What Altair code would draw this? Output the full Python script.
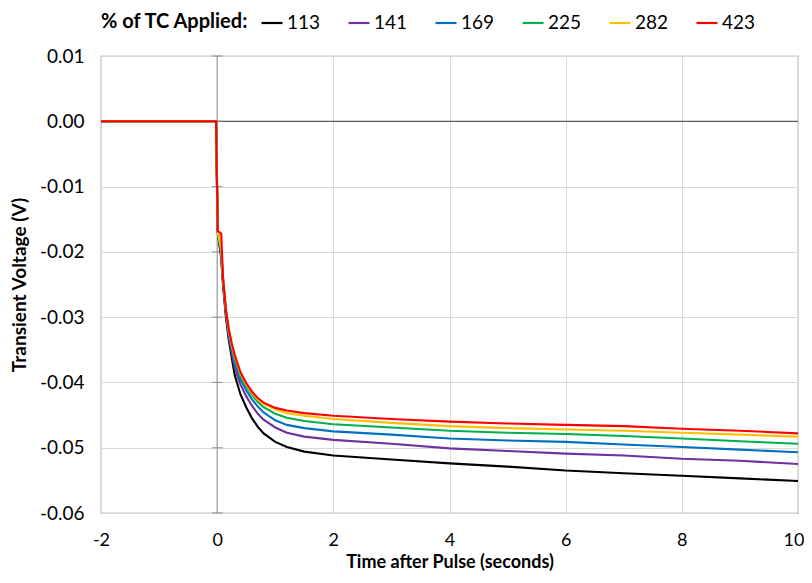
import altair as alt
import pandas as pd

# time after pulse (s)
times = [-2, -0.02, 0.01, 0.07, 0.1, 0.15, 0.2, 0.25, 0.3, 0.4, 0.5, 0.6, 0.7, 0.8,
         1.0, 1.2, 1.5, 2, 3, 4, 5, 6, 7, 8, 9, 10]

series_names = ["113", "141", "169", "225", "282", "423"]
series_colors = ["#000000", "#7030A0", "#0070C0", "#00B050", "#FFC000", "#FF0000"]

v113 = [0, 0, -0.0170, -0.0210, -0.0250, -0.0300, -0.0335, -0.0362, -0.0388, -0.0418, -0.0438,
        -0.0455, -0.0468, -0.0478, -0.0491, -0.0499, -0.0506, -0.0512, -0.0518, -0.0524,
        -0.0529, -0.0535, -0.0539, -0.0543, -0.0547, -0.0551]
v141 = [0, 0, -0.0170, -0.0205, -0.0245, -0.0295, -0.0330, -0.0355, -0.0377, -0.0403, -0.0421,
        -0.0436, -0.0448, -0.0457, -0.0469, -0.0477, -0.0483, -0.0488, -0.0494, -0.0501,
        -0.0505, -0.0509, -0.0512, -0.0517, -0.0520, -0.0525]
v169 = [0, 0, -0.0170, -0.0203, -0.0242, -0.0291, -0.0325, -0.0348, -0.0369, -0.0395, -0.0412,
        -0.0426, -0.0437, -0.0446, -0.0458, -0.0465, -0.0470, -0.0475, -0.0480, -0.0486,
        -0.0489, -0.0491, -0.0495, -0.0499, -0.0503, -0.0507]
v225 = [0, 0, -0.0170, -0.0200, -0.0240, -0.0290, -0.0322, -0.0345, -0.0364, -0.0390, -0.0406,
        -0.0419, -0.0430, -0.0438, -0.0448, -0.0454, -0.0459, -0.0464, -0.0469, -0.0474,
        -0.0477, -0.0479, -0.0482, -0.0486, -0.0490, -0.0494]
v282 = [0, 0, -0.0170, -0.0195, -0.0239, -0.0289, -0.0320, -0.0342, -0.0360, -0.0386, -0.0403,
        -0.0416, -0.0426, -0.0433, -0.0441, -0.0447, -0.0451, -0.0456, -0.0462, -0.0467,
        -0.0470, -0.0472, -0.0474, -0.0477, -0.0480, -0.0483]
v423 = [0, 0, -0.0168, -0.0172, -0.0238, -0.0288, -0.0318, -0.0340, -0.0357, -0.0384, -0.0401,
        -0.0414, -0.0424, -0.0431, -0.0439, -0.0443, -0.0447, -0.0451, -0.0456, -0.0460,
        -0.0463, -0.0465, -0.0467, -0.0471, -0.0474, -0.0478]

x_ticks = [-2, 0, 2, 4, 6, 8, 10]
y_ticks = [-0.06, -0.05, -0.04, -0.03, -0.02, -0.01, 0.0, 0.01]

all_vals = [v113, v141, v169, v225, v282, v423]
rows = []
for name, vals in zip(series_names, all_vals):
    for t, v in zip(times, vals):
        rows.append({"t": t, "v": v, "series": name})
df = pd.DataFrame(rows)

FONT = "Lato"

xscale = alt.Scale(domain=[-2, 10], nice=False, zero=False)
yscale = alt.Scale(domain=[-0.06, 0.01], nice=False, zero=False)

lines = alt.Chart(df).mark_line(strokeWidth=2.1).encode(
    x=alt.X("t:Q", scale=xscale,
            axis=alt.Axis(values=x_ticks, title="Time after Pulse (seconds)",
                          labelExpr="datum.value + ''", grid=True, labelFlush=False,
                          labelAlign={"condition": {"test": "datum.value == 10", "value": "right"},
                                      "value": "center"},
                          labelOffset={"condition": {"test": "datum.value == 10", "value": 6},
                                       "value": 0})),
    y=alt.Y("v:Q", scale=yscale,
            axis=alt.Axis(values=y_ticks, title="Transient Voltage (V)",
                          labelExpr="replace(format(datum.value, '.2f'), '\u2212', '-')",
                          grid=True, labelFlush=False)),
    color=alt.Color("series:N",
                    scale=alt.Scale(domain=series_names, range=series_colors),
                    legend=alt.Legend(title="% of TC Applied:", orient="none",
                                      direction="horizontal", titleOrient="left",
                                      legendX=0, legendY=-45,
                                      symbolType="stroke", symbolSize=441,
                                      symbolStrokeWidth=2.2, labelOffset=3,
                                      columnPadding=23, titlePadding=11,
                                      labelFontSize=19, titleFontSize=20,
                                      titleFontWeight="bold", labelFont=FONT,
                                      titleFont=FONT, titleColor="#000000",
                                      labelColor="#000000")),
)

zero_df = pd.DataFrame({"v": [0.0]})
zero_rule = alt.Chart(zero_df).mark_rule(color="#595959", strokeWidth=1.3).encode(
    y=alt.Y("v:Q", scale=yscale)
)

vaxis_df = pd.DataFrame({"t": [0.0]})
vaxis_rule = alt.Chart(vaxis_df).mark_rule(color="#A0A0A0", strokeWidth=1.2).encode(
    x=alt.X("t:Q", scale=xscale)
)

tick_df = pd.DataFrame({"t": [0.0] * len(y_ticks), "v": y_ticks})
ticks = alt.Chart(tick_df).mark_tick(orient="horizontal", size=11, thickness=1.2,
                                     color="#808080").encode(
    x=alt.X("t:Q", scale=xscale),
    y=alt.Y("v:Q", scale=yscale),
)

chart = alt.layer(zero_rule, vaxis_rule, ticks, lines).properties(
    width=697, height=457,
    autosize=alt.AutoSizeParams(type="none"),
    padding={"left": 93, "top": 48, "right": 6, "bottom": 62},
).configure_view(
    stroke="#8C8C8C", strokeWidth=1.2
).configure_axis(
    domain=False, ticks=False, tickSize=0,
    gridColor="#D9D9D9", gridWidth=1,
    labelFont=FONT, labelFontSize=19, labelColor="#000000",
    titleFont=FONT, titleFontSize=19, titleFontWeight="bold", titleColor="#000000",
).configure_axisX(
    labelPadding=18, titlePadding=4, labelFontSize=18, titleFontSize=18
).configure_axisY(
    labelPadding=17, titlePadding=10
)

chart.save("out.html", embed_options={"renderer": "svg", "actions": False})
